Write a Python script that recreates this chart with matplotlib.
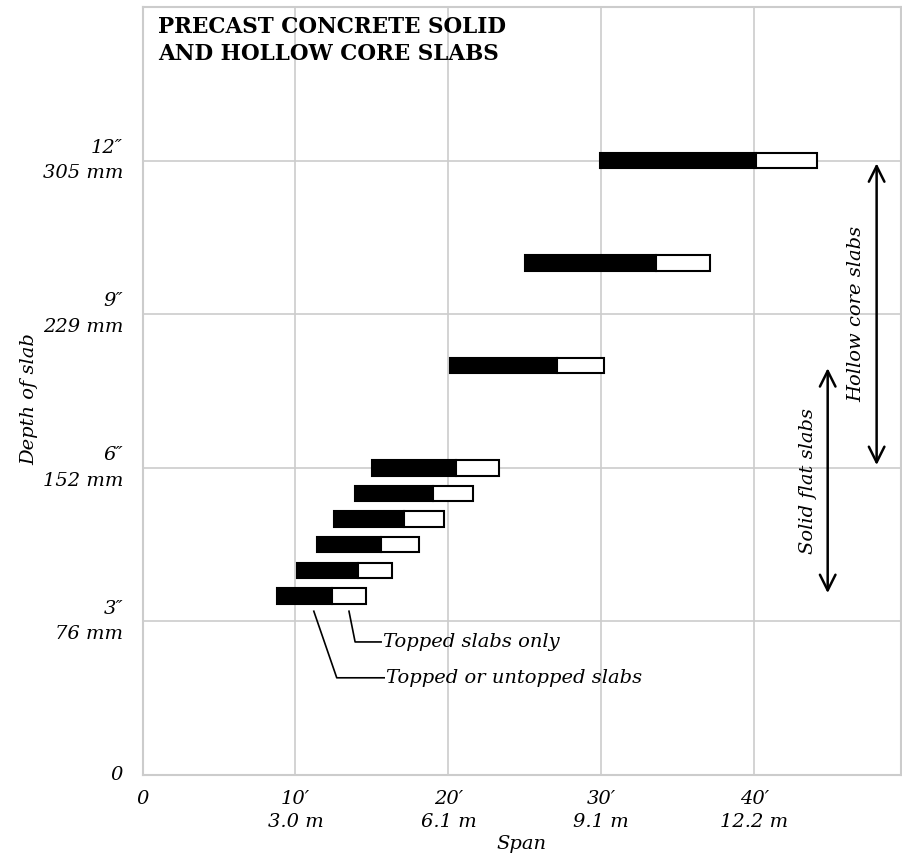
import matplotlib
matplotlib.use("Agg")
import matplotlib.pyplot as plt

# Data
depths = [3.5, 4.0, 4.5, 5.0, 5.5, 6.0, 8.0, 10.0, 12.0]          # inches
span_start = [8.8, 10.1, 11.4, 12.5, 13.9, 15.0, 20.1, 25.0, 29.9]  # ft
span_untopped_end = [12.4, 14.1, 15.6, 17.1, 19.0, 20.5, 27.1, 33.6, 40.1]
span_topped_end = [14.6, 16.3, 18.1, 19.7, 21.6, 23.3, 30.2, 37.1, 44.1]

x_ticks = [0, 10, 20, 30, 40]
x_labels = ["0", "10\u2032\n3.0 m", "20\u2032\n6.1 m", "30\u2032\n9.1 m", "40\u2032\n12.2 m"]
y_ticks = [0, 3, 6, 9, 12]
y_labels = ["0", "3\u2033\n76 mm", "6\u2033\n152 mm", "9\u2033\n229 mm", "12\u2033\n305 mm"]

hollow_range = (6.0, 12.0)
solid_range = (3.5, 8.0)

SERIF = ["DejaVu Serif", "DejaVu Sans"]
plt.rcParams['font.family'] = SERIF

fig = plt.figure(figsize=(9.02, 8.67), dpi=100)
ax = fig.add_axes([0.158, 0.106, 0.841, 0.886])
ax.set_xlim(0, 49.6)
ax.set_ylim(0, 15.0)

grid_c = "#cccccc"
for s in ax.spines.values():
    s.set_color(grid_c)
    s.set_linewidth(1.5)
ax.grid(True, color=grid_c, linewidth=1.2)
ax.set_axisbelow(True)
ax.set_xticks(x_ticks)
ax.set_yticks(y_ticks)
ax.set_xticklabels(x_labels, fontsize=14, style="italic")
ax.set_yticklabels(y_labels, fontsize=14, style="italic")
for lbl in ax.get_yticklabels():
    lbl.set_verticalalignment("center")
    lbl.set_linespacing(1.55)
ax.tick_params(length=0, pad=14)
ax.tick_params(axis="x", pad=11)
for lbl in ax.get_xticklabels():
    lbl.set_linespacing(1.35)

ax.set_xlabel("Span", fontsize=14, style="italic", labelpad=3)
ax.set_ylabel("Depth of slab", fontsize=14, style="italic")
ax.yaxis.set_label_coords(-0.138, 0.49)

h = 0.3
w_black = [e - s for s, e in zip(span_start, span_untopped_end)]
w_white = [e - s for s, e in zip(span_untopped_end, span_topped_end)]
ax.barh(depths, w_black, left=span_start, height=h, color="black",
        edgecolor="black", linewidth=1.5, zorder=3)
ax.barh(depths, w_white, left=span_untopped_end, height=h, color="white",
        edgecolor="black", linewidth=1.5, zorder=3)

# Title
ax.text(1.0, 14.82, "PRECAST CONCRETE SOLID\nAND HOLLOW CORE SLABS",
        fontsize=15.5, fontweight="bold", va="top", ha="left",
        linespacing=1.3, zorder=4)

# Range arrows
arrow_kw = dict(arrowstyle="<->", color="black", lw=1.8, mutation_scale=28)
ax.annotate("", xy=(48.0, hollow_range[1]), xytext=(48.0, hollow_range[0]),
            arrowprops=arrow_kw, zorder=4)
ax.annotate("", xy=(44.8, solid_range[1]), xytext=(44.8, solid_range[0]),
            arrowprops=arrow_kw, zorder=4)
ax.text(46.7, 9.0, "Hollow core slabs", rotation=90, fontsize=14,
        style="italic", ha="center", va="center")
ax.text(43.5, 5.75, "Solid flat slabs", rotation=90, fontsize=14,
        style="italic", ha="center", va="center")

# Leader lines
y_bar_bottom = depths[0] - h / 2 - 0.15
ax.plot([13.5, 13.9, 15.6], [y_bar_bottom, 2.6, 2.6], color="black", lw=1.2, zorder=4)
ax.plot([11.2, 12.7, 15.8], [y_bar_bottom, 1.9, 1.9], color="black", lw=1.2, zorder=4)
ax.text(15.7, 2.6, "Topped slabs only", fontsize=14, style="italic",
        ha="left", va="center")
ax.text(15.9, 1.9, "Topped or untopped slabs", fontsize=14, style="italic",
        ha="left", va="center")

fig.savefig("out.png", dpi=100)
